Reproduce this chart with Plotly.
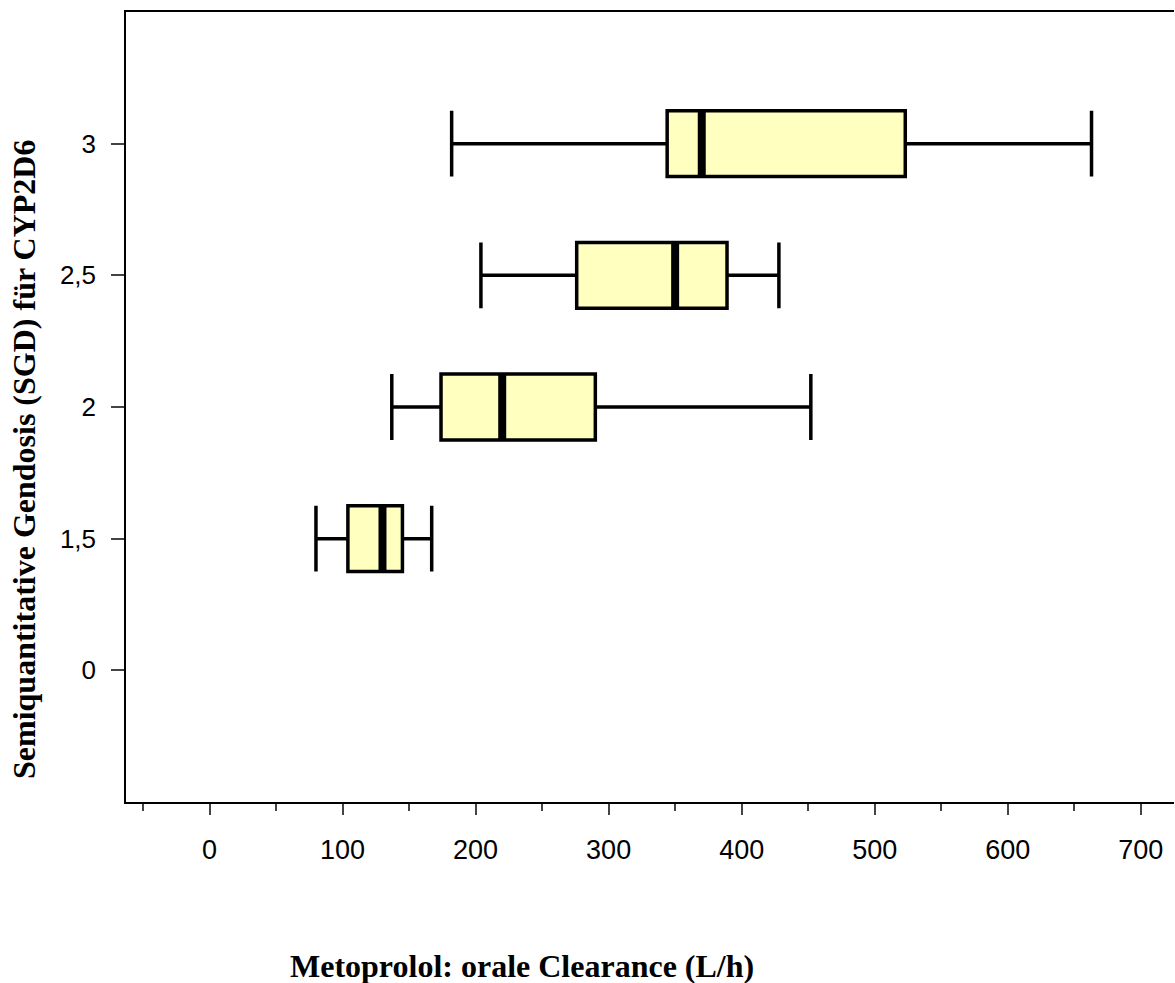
import plotly.graph_objects as go

# Data
sgd_labels = ["0", "1,5", "2", "2,5", "3"]
positions = [0, 1, 2, 3, 4]
box_pos = [1, 2, 3, 4]          # SGD 1,5 / 2 / 2,5 / 3  (SGD 0: no data)
lower_whisker = [80, 137, 204, 182]
q1 = [104, 174, 276, 344]
median = [130, 220, 350, 370]
q3 = [145, 290, 389, 523]
upper_whisker = [167, 452, 428, 663]

x_ticks = [0, 100, 200, 300, 400, 500, 600, 700]
x_minor = [-50, 50, 150, 250, 350, 450, 550, 650]

fill = "#FFFFC0"
half = 0.25

fig = go.Figure()
for i, p in enumerate(box_pos):
    fig.add_trace(go.Box(
        orientation="h",
        y=[p],
        q1=[q1[i]], median=[median[i]], q3=[q3[i]],
        lowerfence=[lower_whisker[i]], upperfence=[upper_whisker[i]],
        width=0.5, whiskerwidth=1,
        fillcolor=fill,
        line=dict(color="black", width=3.5),
        boxpoints=False,
        showlegend=False,
        hoverinfo="skip",
    ))
    fig.add_trace(go.Scatter(
        x=[median[i], median[i]], y=[p - half, p + half],
        mode="lines", line=dict(color="black", width=8),
        showlegend=False, hoverinfo="skip",
    ))

fig.update_layout(
    width=1175, height=983,
    margin=dict(l=126, r=1, t=12, b=181),
    paper_bgcolor="white", plot_bgcolor="white",
    font=dict(family="Liberation Sans, Arial", size=26, color="black"),
    showlegend=False,
)
fig.update_xaxes(
    range=[-62.8, 725], tickvals=x_ticks, ticktext=[str(v) for v in x_ticks],
    showgrid=False, zeroline=False,
    showline=True, linecolor="black", linewidth=1.5, mirror=True,
    ticks="outside", ticklen=11, tickcolor="#444", tickwidth=1.5,
    ticklabelstandoff=12,
    minor=dict(tickvals=x_minor, ticks="outside",
               ticklen=7, tickcolor="#444", tickwidth=1.5),
    tickfont=dict(size=27),
)
fig.update_yaxes(
    range=[-1, 5], tickvals=positions, ticktext=sgd_labels,
    showgrid=False, zeroline=False,
    showline=True, linecolor="black", linewidth=1.5,
    ticks="outside", ticklen=13, tickcolor="#444", tickwidth=1.5,
    ticklabelstandoff=10,
    tickfont=dict(size=26),
)
fig.add_annotation(
    text="<b>Metoprolol: orale Clearance (L/h)</b>",
    xref="paper", yref="paper", x=(522 - 126) / 1048, y=-(966 - 802) / 790,
    xanchor="center", yanchor="middle", showarrow=False,
    font=dict(family="Liberation Serif, Times New Roman", size=32, color="black"),
)
fig.add_annotation(
    text="<b>Semiquantitative Gendosis (SGD) für CYP2D6</b>",
    xref="paper", yref="paper", x=-(126 - 24) / 1048, y=(802 - 460) / 790,
    xanchor="center", yanchor="middle", textangle=-90, showarrow=False,
    font=dict(family="Liberation Serif, Times New Roman", size=32, color="black"),
)

fig.write_html(
    "out.html",
    config={"displayModeBar": False},
    post_script="document.body.style.margin='0';document.body.style.overflow='hidden';",
)
